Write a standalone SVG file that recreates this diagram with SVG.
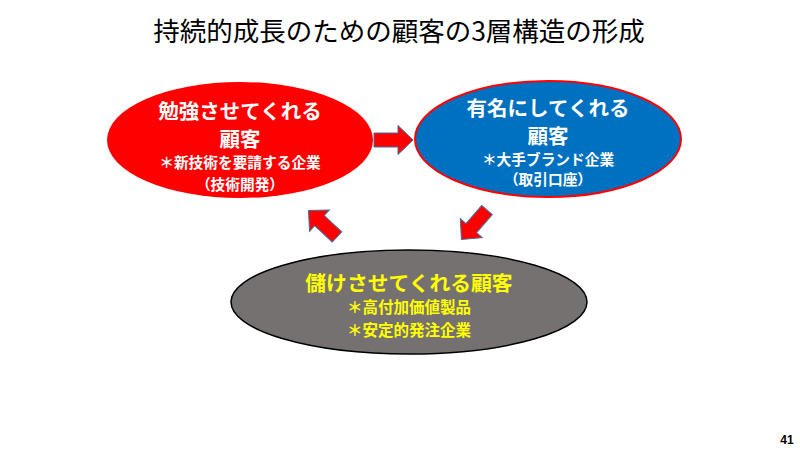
<svg xmlns="http://www.w3.org/2000/svg" width="800" height="450" viewBox="0 0 800 450">
<style>
.jp{font-family:"Noto Sans CJK JP","Noto Sans CJK SC",sans-serif;text-anchor:middle}
.b{font-weight:bold}
.w{fill:#FFFFFF}
.y{fill:#FFFF00}
.arr{fill:#FF0000;stroke:#41719C;stroke-width:1}
</style>
<defs>
<polygon id="arrow" points="0,-7 24,-7 24,-14.5 39,0 24,14.5 24,7 0,7"/>
</defs>
<rect width="800" height="450" fill="#FFFFFF"/>
<text class="jp" x="399" y="41" font-size="26.5" fill="#000000">持続的成長のための顧客の3層構造の形成</text>
<g id="node-study">
<ellipse cx="240" cy="140" rx="133" ry="58" fill="#FF0000"/>
<text class="jp b w" x="240" y="119" font-size="20.5">勉強させてくれる</text>
<text class="jp b w" x="240" y="147" font-size="20.5">顧客</text>
<text class="jp b w" x="240" y="168" font-size="14.7">＊新技術を要請する企業</text>
<text class="jp b w" x="240" y="190" font-size="14.7">（技術開発）</text>
</g>
<g id="node-famous">
<ellipse cx="548" cy="139" rx="133" ry="58" fill="#0070C0" stroke="#FF0000" stroke-width="2"/>
<text class="jp b w" x="548" y="116" font-size="20.5">有名にしてくれる</text>
<text class="jp b w" x="548" y="144" font-size="20.5">顧客</text>
<text class="jp b w" x="548" y="165" font-size="14.7">＊大手ブランド企業</text>
<text class="jp b w" x="548" y="185" font-size="14.7">（取引口座）</text>
</g>
<g id="node-profit">
<ellipse cx="409" cy="302" rx="178" ry="52" fill="#767171" stroke="#000000" stroke-width="1.5"/>
<text class="jp b y" x="409" y="291" font-size="20.8">儲けさせてくれる顧客</text>
<text class="jp b y" x="409" y="313" font-size="15.5">＊高付加価値製品</text>
<text class="jp b y" x="409" y="336" font-size="15.5">＊安定的発注企業</text>
</g>
<g id="connectors">
<use href="#arrow" class="arr" transform="translate(374,140)"/>
<use href="#arrow" class="arr" transform="translate(487,210) rotate(131)"/>
<use href="#arrow" class="arr" transform="translate(337,237) rotate(223)"/>
</g>
<text x="787" y="444" font-family="Liberation Sans, sans-serif" font-size="12" font-weight="bold" text-anchor="middle" fill="#000000">41</text>
</svg>
